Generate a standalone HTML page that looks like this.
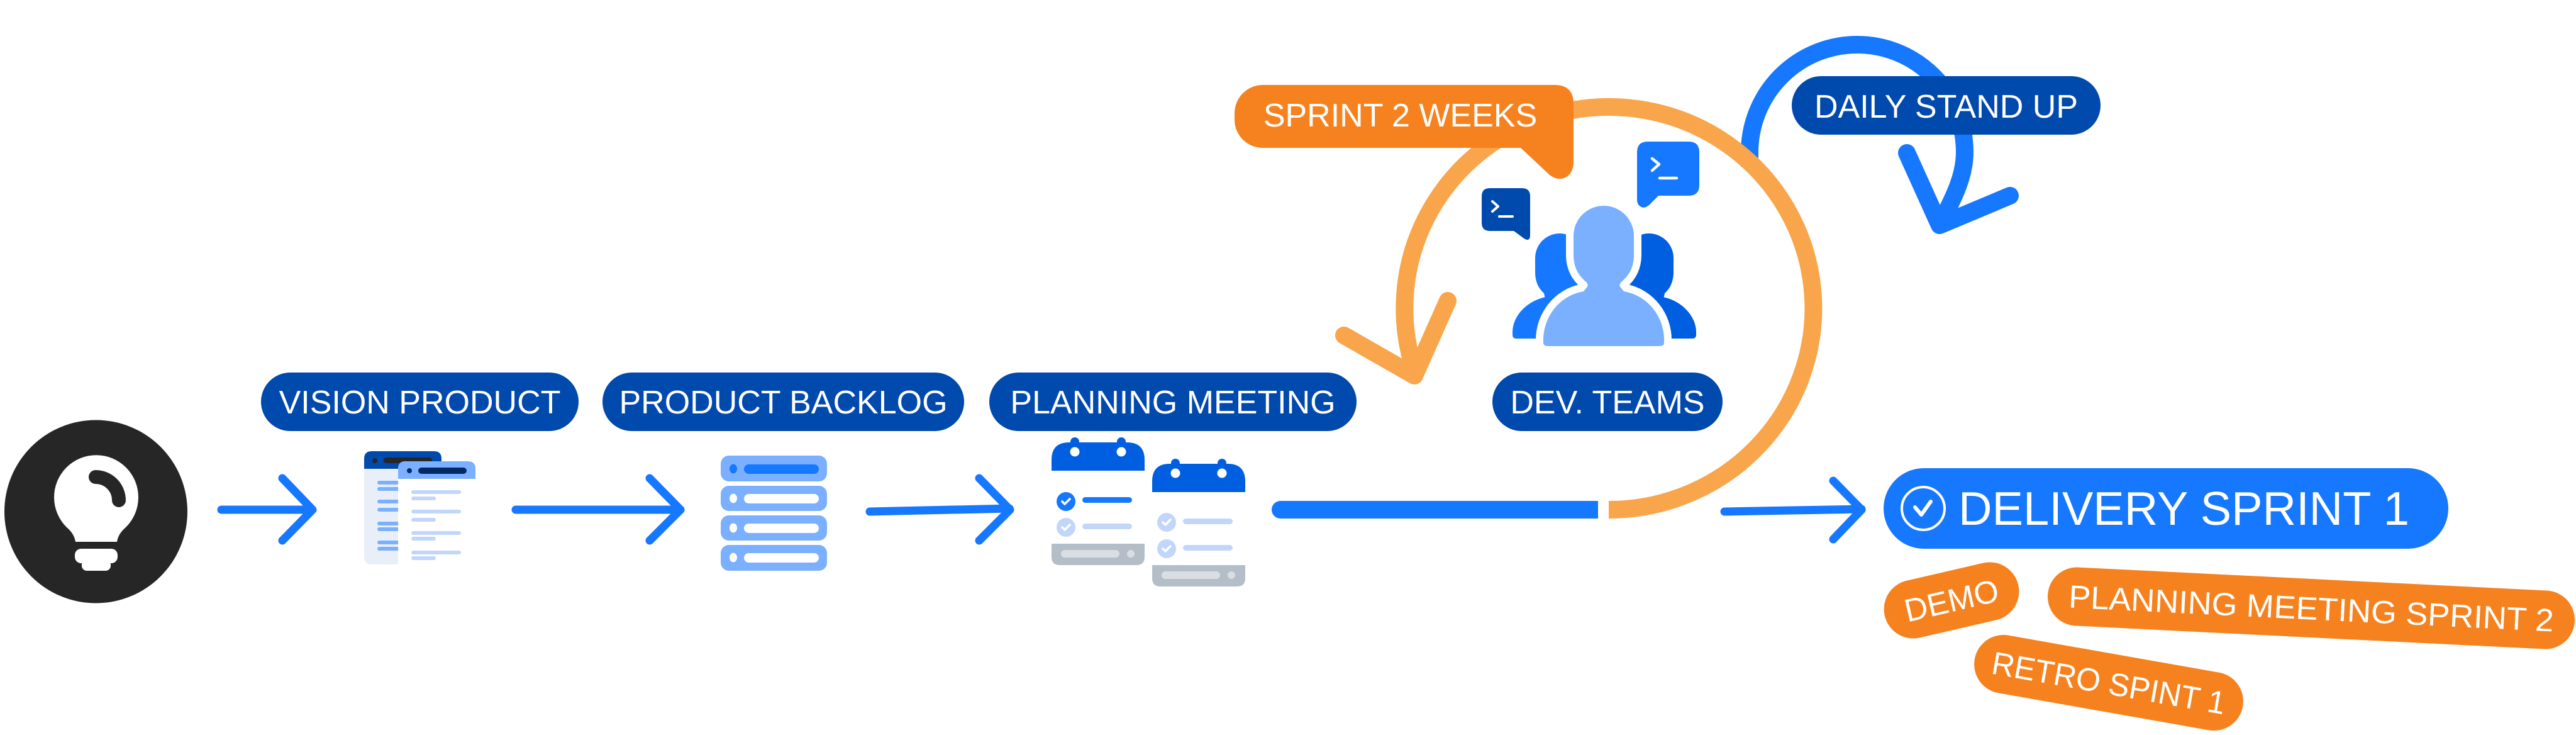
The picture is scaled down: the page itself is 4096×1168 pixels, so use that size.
<!DOCTYPE html>
<html>
<head>
<meta charset="utf-8">
<style>
  html,body{margin:0;padding:0;background:#fff;}
  body{width:4096px;height:1168px;overflow:hidden;}
  svg{display:block;}
  text{font-family:"Liberation Sans", Arial, sans-serif;fill:#fff;}
</style>
</head>
<body>
<svg width="4096" height="1168" viewBox="0 0 4096 1168" xmlns="http://www.w3.org/2000/svg">
  <rect width="4096" height="1168" fill="#fff"/>

  <!-- Bulb -->
  <circle cx="152.5" cy="813" r="145.5" fill="#262626"/>
  <path d="M120,861 Q118,848 106,838 A67,67 0 1 1 200,838 Q188,848 186,861 Z" fill="#fff"/>
  <rect x="119" y="872" width="68" height="23" rx="10" fill="#fff"/>
  <rect x="130" y="888" width="46" height="19" rx="8" fill="#fff"/>
  <path d="M152,758 A37,37 0 0 1 189,795" fill="none" stroke="#262626" stroke-width="22" stroke-linecap="round"/>

  <!-- Arrow 1 -->
  <g fill="none" stroke="#1677ff" stroke-width="13" stroke-linecap="round" stroke-linejoin="round">
    <path d="M352,810 H496"/>
    <path d="M449,760 L497,810 L449,859"/>
    <path d="M820,810 H1082"/>
    <path d="M1033,760 L1082,810 L1033,859"/>
    <path d="M1383,813 L1605,808"/>
    <path d="M1557,760 L1606,810 L1557,859"/>
    <path d="M2742,813 L2960,809"/>
    <path d="M2915,764 L2960,810 L2915,857"/>
  </g>

  <!-- Vision doc icon -->
  <path d="M591,717 H690 Q702,717 702,729 V897 H591 Q579,897 579,885 V729 Q579,717 591,717 Z" fill="#e9eff9"/>
  <path d="M591,717 H690 Q702,717 702,729 V745 H579 V729 Q579,717 591,717 Z" fill="#0049ad"/>
  <circle cx="596" cy="732" r="4" fill="#262626"/>
  <rect x="610" y="727" width="77" height="9" rx="4.5" fill="#262626"/>
  <g fill="#7ab0ff">
    <rect x="600" y="764" width="40" height="6" rx="3"/>
    <rect x="600" y="774" width="40" height="6" rx="3"/>
    <rect x="600" y="794" width="40" height="6" rx="3"/>
    <rect x="600" y="807" width="40" height="6" rx="3"/>
    <rect x="600" y="829" width="40" height="6" rx="3"/>
    <rect x="600" y="838" width="40" height="6" rx="3"/>
    <rect x="600" y="859" width="40" height="6" rx="3"/>
    <rect x="600" y="869" width="40" height="6" rx="3"/>
  </g>
  <path d="M645,733 H744 Q756,733 756,745 V897 H633 V745 Q633,733 645,733 Z" fill="#fff"/>
  <path d="M645,733 H744 Q756,733 756,745 V761 H633 V745 Q633,733 645,733 Z" fill="#7ab0ff"/>
  <circle cx="651" cy="748" r="4" fill="#002a66"/>
  <rect x="665" y="743" width="77" height="10" rx="5" fill="#002a66"/>
  <g fill="#c2d6fc">
    <rect x="654" y="779" width="79" height="6" rx="3"/>
    <rect x="654" y="789" width="39" height="6" rx="3"/>
    <rect x="654" y="810" width="79" height="6" rx="3"/>
    <rect x="654" y="823" width="39" height="6" rx="3"/>
    <rect x="654" y="844" width="79" height="6" rx="3"/>
    <rect x="654" y="853" width="39" height="6" rx="3"/>
    <rect x="654" y="875" width="79" height="6" rx="3"/>
    <rect x="654" y="884" width="39" height="6" rx="3"/>
  </g>

  <!-- Backlog icon -->
  <g>
    <rect x="1146" y="724" width="169" height="41" rx="13" fill="#7ab0ff"/>
    <ellipse cx="1166" cy="745" rx="6" ry="7.5" fill="#1677ff"/>
    <rect x="1183" y="738" width="119" height="15" rx="7.5" fill="#1677ff"/>
    <rect x="1146" y="772" width="169" height="40" rx="13" fill="#7ab0ff"/>
    <ellipse cx="1166" cy="792" rx="6" ry="7.5" fill="#fff"/>
    <rect x="1183" y="785" width="119" height="15" rx="7.5" fill="#fff"/>
    <rect x="1146" y="819" width="169" height="40" rx="13" fill="#7ab0ff"/>
    <ellipse cx="1166" cy="839" rx="6" ry="7.5" fill="#fff"/>
    <rect x="1183" y="832" width="119" height="15" rx="7.5" fill="#fff"/>
    <rect x="1146" y="866" width="169" height="41" rx="13" fill="#7ab0ff"/>
    <ellipse cx="1166" cy="886" rx="6" ry="7.5" fill="#fff"/>
    <rect x="1183" y="879" width="119" height="15" rx="7.5" fill="#fff"/>
  </g>

  <!-- Calendars -->
  <g id="cal1">
    <rect x="1702" y="695" width="14" height="16" rx="7" fill="#005ee0"/>
    <rect x="1776" y="695" width="14" height="16" rx="7" fill="#005ee0"/>
    <path d="M1672,748 V731 Q1672,703 1700,703 H1792 Q1820,703 1820,731 V748 Z" fill="#005ee0"/>
    <circle cx="1709" cy="718" r="7.5" fill="#fff"/>
    <circle cx="1783" cy="718" r="7.5" fill="#fff"/>
    <circle cx="1695" cy="797" r="15" fill="#1677ff"/>
    <polyline points="1689,797 1693,801 1701,793" fill="none" stroke="#fff" stroke-width="3.5" stroke-linecap="round" stroke-linejoin="round"/>
    <rect x="1721" y="790" width="79" height="9" rx="4.5" fill="#1677ff"/>
    <circle cx="1695" cy="838" r="15" fill="#c2d6fc"/>
    <polyline points="1689,838 1693,842 1701,834" fill="none" stroke="#fff" stroke-width="3.5" stroke-linecap="round" stroke-linejoin="round"/>
    <rect x="1721" y="832" width="79" height="9" rx="4.5" fill="#c2d6fc"/>
    <path d="M1672,864 H1820 V885 Q1820,898 1807,898 H1685 Q1672,898 1672,885 Z" fill="#b4bec8"/>
    <rect x="1687" y="874" width="93" height="12" rx="6" fill="#d9dee3"/>
    <circle cx="1798" cy="880" r="6" fill="#d9dee3"/>
  </g>
  <g transform="translate(160,34)">
    <rect x="1702" y="695" width="14" height="16" rx="7" fill="#005ee0"/>
    <rect x="1776" y="695" width="14" height="16" rx="7" fill="#005ee0"/>
    <path d="M1672,748 V731 Q1672,703 1700,703 H1792 Q1820,703 1820,731 V748 Z" fill="#005ee0"/>
    <circle cx="1709" cy="718" r="7.5" fill="#fff"/>
    <circle cx="1783" cy="718" r="7.5" fill="#fff"/>
    <circle cx="1695" cy="796" r="15" fill="#c2d6fc"/>
    <polyline points="1689,796 1693,800 1701,792" fill="none" stroke="#fff" stroke-width="3.5" stroke-linecap="round" stroke-linejoin="round"/>
    <rect x="1721" y="790" width="79" height="9" rx="4.5" fill="#c2d6fc"/>
    <circle cx="1695" cy="838" r="15" fill="#c2d6fc"/>
    <polyline points="1689,838 1693,842 1701,834" fill="none" stroke="#fff" stroke-width="3.5" stroke-linecap="round" stroke-linejoin="round"/>
    <rect x="1721" y="832" width="79" height="9" rx="4.5" fill="#c2d6fc"/>
    <path d="M1672,864 H1820 V885 Q1820,898 1807,898 H1685 Q1672,898 1672,885 Z" fill="#b4bec8"/>
    <rect x="1687" y="874" width="93" height="12" rx="6" fill="#d9dee3"/>
    <circle cx="1798" cy="880" r="6" fill="#d9dee3"/>
  </g>

  <!-- Thick blue line -->
  <path d="M2036,796 H2541 V824 H2036 A14,14 0 0 1 2036,796 Z" fill="#1677ff"/>

  <!-- Daily stand up loop (blue) -->
  <path d="M2782,265 L2782,242 A171,171 0 0 1 3124,242 C3124,285 3101,323 3085,357" fill="none" stroke="#1677ff" stroke-width="28"/>
  <path d="M3032,243 L3084,358 L3196,311" fill="none" stroke="#1677ff" stroke-width="28" stroke-linecap="round" stroke-linejoin="round"/>

  <!-- Sprint orange loop -->
  <path d="M2558,810 A325,320 0 1 0 2251,594" fill="none" stroke="#f9a54b" stroke-width="28"/>
  <path d="M2137,533 L2249,597 L2302,478" fill="none" stroke="#f9a54b" stroke-width="28" stroke-linecap="round" stroke-linejoin="round"/>

  <!-- Sprint 2 weeks callout -->
  <path d="M2008,135 H2472 Q2502,135 2502,165 V258 C2502,282 2480,292 2463,277 L2418,235 H2008 A45,45 0 0 1 1963,190 V180 A45,45 0 0 1 2008,135 Z" fill="#f5821f"/>
  <text x="2226.5" y="201" font-size="52" text-anchor="middle">SPRINT 2 WEEKS</text>

  <!-- Daily stand up pill -->
  <rect x="2849" y="121" width="491" height="93" rx="46.5" fill="#0049ad"/>
  <text x="3094.5" y="187" font-size="52" text-anchor="middle">DAILY STAND UP</text>

  <!-- Bubbles -->
  <path d="M2369,299 H2420 Q2433,299 2433,312 V373 Q2433,386 2422,378 L2407,367 H2369 Q2356,367 2356,354 V312 Q2356,299 2369,299 Z" fill="#0049ad"/>
  <polyline points="2373,320 2382,328 2373,336" fill="none" stroke="#fff" stroke-width="4" stroke-linecap="round" stroke-linejoin="round"/>
  <line x1="2384" y1="344" x2="2405" y2="344" stroke="#fff" stroke-width="4" stroke-linecap="round"/>
  <path d="M2620,225 H2685 Q2702,225 2702,242 V294 Q2702,311 2685,311 H2637 L2622,326 Q2612,334 2605,325 Q2603,322 2603,317 V242 Q2603,225 2620,225 Z" fill="#1677ff"/>
  <polyline points="2627,252 2638,261 2627,271" fill="none" stroke="#fff" stroke-width="4.5" stroke-linecap="round" stroke-linejoin="round"/>
  <line x1="2639" y1="283" x2="2666" y2="283" stroke="#fff" stroke-width="4.5" stroke-linecap="round"/>

  <!-- Team people -->
  <g id="sideperson">
    <path d="M2441,410 A39,39 0 0 1 2519,410 V480 H2458 L2455,466 C2446,458 2441,447 2441,432 Z" fill="#1677ff"/>
    <path d="M2458,472 C2427,478 2405,503 2405,528 V532 Q2405,538 2411,538 H2525 V472 Z" fill="#1677ff"/>
  </g>
  <g transform="translate(5102,0) scale(-1,1)">
    <path d="M2441,410 A39,39 0 0 1 2519,410 V480 H2458 L2455,466 C2446,458 2441,447 2441,432 Z" fill="#005ee0"/>
    <path d="M2458,472 C2427,478 2405,503 2405,528 V532 Q2405,538 2411,538 H2525 V472 Z" fill="#005ee0"/>
  </g>
  <path d="M2502,375 A48,48 0 0 1 2598,375 V405 C2598,425 2590,438 2578,448 Q2573,453 2578,458 L2582,463 C2622,470 2646,505 2646,540 V545 Q2646,550 2638,550 H2462 Q2454,550 2454,545 V540 C2454,505 2478,470 2518,463 L2522,458 Q2527,453 2522,448 C2510,438 2502,425 2502,405 Z" fill="#fff" stroke="#fff" stroke-width="24" stroke-linejoin="round"/>
  <path d="M2502,375 A48,48 0 0 1 2598,375 V405 C2598,425 2590,438 2578,448 Q2573,453 2578,458 L2582,463 C2622,470 2646,505 2646,540 V545 Q2646,550 2638,550 H2462 Q2454,550 2454,545 V540 C2454,505 2478,470 2518,463 L2522,458 Q2527,453 2522,448 C2510,438 2502,425 2502,405 Z" fill="#7ab0ff"/>

  <!-- Main row pills -->
  <rect x="415" y="592" width="505" height="93" rx="46.5" fill="#0049ad"/>
  <text x="667.5" y="657" font-size="52" text-anchor="middle">VISION PRODUCT</text>
  <rect x="958" y="592" width="575" height="93" rx="46.5" fill="#0049ad"/>
  <text x="1245.5" y="657" font-size="52" text-anchor="middle">PRODUCT BACKLOG</text>
  <rect x="1573" y="592" width="584" height="93" rx="46.5" fill="#0049ad"/>
  <text x="1865" y="657" font-size="52" text-anchor="middle">PLANNING MEETING</text>
  <rect x="2373" y="592" width="366" height="93" rx="46.5" fill="#0049ad"/>
  <text x="2556" y="657" font-size="52" text-anchor="middle">DEV. TEAMS</text>

  <!-- Delivery pill -->
  <rect x="2995" y="744" width="898" height="128" rx="64" fill="#1677ff"/>
  <circle cx="3058" cy="808" r="34" fill="none" stroke="#fff" stroke-width="4"/>
  <polyline points="3045,806 3055,818 3070,797" fill="none" stroke="#fff" stroke-width="6" stroke-linecap="round" stroke-linejoin="round"/>
  <text x="3114" y="834" font-size="75" textLength="717" lengthAdjust="spacingAndGlyphs">DELIVERY SPRINT 1</text>

  <!-- Orange tags -->
  <g transform="translate(3103,954) rotate(-13)">
    <rect x="-109" y="-46.5" width="218" height="93" rx="46.5" fill="#f5821f"/>
    <text x="0" y="18" font-size="51" text-anchor="middle" textLength="152" lengthAdjust="spacingAndGlyphs">DEMO</text>
  </g>
  <g transform="translate(3675,966.5) rotate(2.84)">
    <rect x="-419.5" y="-46.5" width="839" height="93" rx="46.5" fill="#f5821f"/>
    <text x="0" y="18" font-size="51" text-anchor="middle" textLength="772" lengthAdjust="spacingAndGlyphs">PLANNING MEETING SPRINT 2</text>
  </g>
  <g transform="translate(3353,1085) rotate(10)">
    <rect x="-216.5" y="-46.5" width="433" height="93" rx="46.5" fill="#f5821f"/>
    <text x="0" y="18" font-size="51" text-anchor="middle" textLength="376" lengthAdjust="spacingAndGlyphs">RETRO SPINT 1</text>
  </g>
</svg>
</body>
</html>
